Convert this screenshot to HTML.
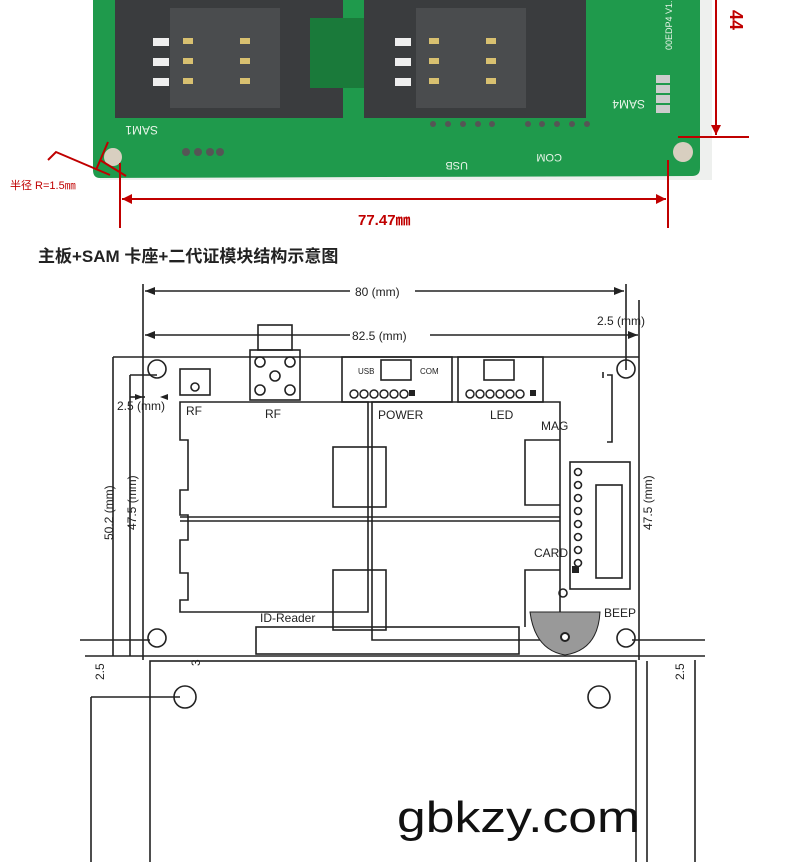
<!DOCTYPE html>
<html><head><meta charset="utf-8"><style>
body{margin:0;background:#fff;width:790px;height:862px;overflow:hidden}
svg{display:block}
text{font-family:"Liberation Sans","Noto Sans CJK SC",sans-serif}
</style></head><body>
<svg width="790" height="862" viewBox="0 0 790 862" xmlns="http://www.w3.org/2000/svg">
<rect x="100" y="0" width="612" height="180" fill="#eef0ee"/>
<path d="M93 0 H700 V168 Q700 176 692 176 L100 178 Q93 178 93 170 Z" fill="#1f9a4c"/>
<rect x="115" y="0" width="228" height="118" fill="#3a3c3e"/>
<rect x="170" y="8" width="110" height="100" fill="#4a4c4e"/>
<rect x="364" y="0" width="222" height="118" fill="#3a3c3e"/>
<rect x="416" y="8" width="110" height="100" fill="#4a4c4e"/>
<g fill="#d8c070"><rect x="183" y="38" width="10" height="6"/><rect x="183" y="58" width="10" height="6"/><rect x="183" y="78" width="10" height="6"/>
<rect x="240" y="38" width="10" height="6"/><rect x="240" y="58" width="10" height="6"/><rect x="240" y="78" width="10" height="6"/>
<rect x="429" y="38" width="10" height="6"/><rect x="429" y="58" width="10" height="6"/><rect x="429" y="78" width="10" height="6"/>
<rect x="486" y="38" width="10" height="6"/><rect x="486" y="58" width="10" height="6"/><rect x="486" y="78" width="10" height="6"/></g>
<g fill="#eee"><rect x="153" y="38" width="16" height="8"/><rect x="153" y="58" width="16" height="8"/><rect x="153" y="78" width="16" height="8"/>
<rect x="395" y="38" width="16" height="8"/><rect x="395" y="58" width="16" height="8"/><rect x="395" y="78" width="16" height="8"/></g>
<rect x="310" y="18" width="54" height="70" fill="#1a7a3a"/>
<text x="128" y="134" font-size="12" fill="#e8f4e8" transform="rotate(180 143 130)">SAM1</text>
<text x="625" y="108" font-size="12" fill="#e8f4e8" transform="rotate(180 635 104)">SAM4</text>
<text x="448" y="170" font-size="11" fill="#e8f4e8" transform="rotate(180 458 166)">USB</text>
<text x="540" y="162" font-size="11" fill="#e8f4e8" transform="rotate(180 551 158)">COM</text>
<g fill="#555"><circle cx="433" cy="124" r="3"/><circle cx="448" cy="124" r="3"/><circle cx="463" cy="124" r="3"/><circle cx="478" cy="124" r="3"/><circle cx="492" cy="124" r="3"/>
<circle cx="528" cy="124" r="3"/><circle cx="542" cy="124" r="3"/><circle cx="557" cy="124" r="3"/><circle cx="572" cy="124" r="3"/><circle cx="587" cy="124" r="3"/>
<circle cx="186" cy="152" r="4"/><circle cx="198" cy="152" r="4"/><circle cx="210" cy="152" r="4"/><circle cx="220" cy="152" r="4"/></g>
<g fill="#ccc"><rect x="656" y="75" width="14" height="8"/><rect x="656" y="85" width="14" height="8"/><rect x="656" y="95" width="14" height="8"/><rect x="656" y="105" width="14" height="8"/></g>
<text x="672" y="50" font-size="9" fill="#e8f4e8" transform="rotate(-90 672 50)">00EDP4 V1.</text>
<circle cx="113" cy="157" r="9" fill="#d8cfc0"/>
<circle cx="683" cy="152" r="10" fill="#d8cfc0"/>
<g stroke="#c00000" stroke-width="2" fill="none">
<line x1="716" y1="0" x2="716" y2="135"/><line x1="678" y1="137" x2="749" y2="137"/>
<line x1="120" y1="163" x2="120" y2="228"/><line x1="668" y1="160" x2="668" y2="228"/>
<line x1="122" y1="199" x2="666" y2="199"/>
<polyline points="48,160 56,152 110,175"/>
<line x1="100" y1="160" x2="126" y2="176"/><line x1="96" y1="170" x2="108" y2="142"/>
</g>
<g fill="#c00000"><polygon points="716,135 711,125 721,125"/><polygon points="122,199 132,194 132,204"/><polygon points="666,199 656,194 656,204"/></g>
<text x="358" y="225" font-size="15" fill="#c00000" font-weight="bold">77.47㎜</text>
<text x="10" y="189" font-size="11" fill="#c00000">半径 R=1.5㎜</text>
<text x="740" y="20" font-size="18" fill="#c00000" font-weight="bold" transform="rotate(90 740 10)">44</text>
<text x="38" y="262" font-size="17" font-weight="bold" fill="#222" font-family="Liberation Serif,Noto Serif CJK SC,serif">主板+SAM 卡座+二代证模块结构示意图</text>
<g stroke="#222" stroke-width="1.6" fill="none">
<line x1="143" y1="284" x2="143" y2="660"/><line x1="626" y1="284" x2="626" y2="370"/>
<line x1="145" y1="291" x2="350" y2="291"/><line x1="415" y1="291" x2="624" y2="291"/>
<line x1="145" y1="335" x2="350" y2="335"/><line x1="430" y1="335" x2="638" y2="335"/>
<line x1="639" y1="300" x2="639" y2="660"/>
<line x1="113" y1="357" x2="639" y2="357"/>
<line x1="113" y1="357" x2="113" y2="656"/><line x1="130" y1="375" x2="130" y2="656"/>
<line x1="130" y1="375" x2="157" y2="375"/>
<circle cx="157" cy="369" r="9"/><circle cx="626" cy="369" r="9"/><circle cx="157" cy="638" r="9"/><circle cx="626" cy="638" r="9"/>
<rect x="180" y="369" width="30" height="26"/><circle cx="195" cy="387" r="4"/>
<rect x="258" y="325" width="34" height="25"/><rect x="250" y="350" width="50" height="50"/>
<circle cx="260" cy="362" r="5"/><circle cx="290" cy="362" r="5"/><circle cx="275" cy="376" r="5"/><circle cx="260" cy="390" r="5"/><circle cx="290" cy="390" r="5"/>
<rect x="342" y="357" width="110" height="45"/><rect x="458" y="357" width="85" height="45"/>
<rect x="381" y="360" width="30" height="20"/><rect x="484" y="360" width="30" height="20"/>
<path d="M180 402 H368 V612 H180 V600 H188 V573 H180 V540 H188 V515 H180 V490 H188 V440 H180 Z"/>
<path d="M372 402 H560 V640 H372 Z"/>
<path d="M180 517 H560"/><path d="M180 521 H560"/>
<rect x="333" y="447" width="53" height="60"/><rect x="333" y="570" width="53" height="60"/>
<path d="M560 440 H525 V505 H560"/><path d="M560 570 H525 V627"/>
<rect x="570" y="462" width="60" height="127"/><rect x="596" y="485" width="26" height="93"/>
<circle cx="578" cy="472" r="3.5"/><circle cx="578" cy="485" r="3.5"/><circle cx="578" cy="498" r="3.5"/><circle cx="578" cy="511" r="3.5"/><circle cx="578" cy="524" r="3.5"/><circle cx="578" cy="537" r="3.5"/><circle cx="578" cy="550" r="3.5"/><circle cx="578" cy="563" r="3.5"/>
<path d="M603 372 V378 M607 375 H612 V442 H607"/>
<circle cx="563" cy="593" r="4"/>
<rect x="256" y="627" width="263" height="27"/>
<line x1="85" y1="656" x2="705" y2="656"/>
<rect x="150" y="661" width="486" height="205"/>
<circle cx="185" cy="697" r="11"/><circle cx="599" cy="697" r="11"/>
<line x1="91" y1="697" x2="180" y2="697"/><line x1="91" y1="697" x2="91" y2="862"/>
<line x1="647" y1="661" x2="647" y2="862"/><line x1="695" y1="660" x2="695" y2="862"/>
<line x1="80" y1="640" x2="150" y2="640"/><line x1="632" y1="640" x2="705" y2="640"/>
<line x1="130" y1="397" x2="145" y2="397"/>
</g>
<g fill="#222">
<polygon points="145,291 155,287 155,295"/><polygon points="624,291 614,287 614,295"/>
<polygon points="145,335 155,331 155,339"/><polygon points="638,335 628,331 628,339"/>
<polygon points="143,397 135,394 135,400"/><polygon points="160,397 168,394 168,400"/>
</g>
<path d="M530 612 H600 Q598 650 565 655 Q535 650 530 612 Z" fill="#999" stroke="#222"/>
<circle cx="565" cy="637" r="4" fill="#fff" stroke="#222" stroke-width="2"/>
<rect x="572" y="566" width="7" height="7" fill="#222"/>
<rect x="409" y="390" width="6" height="6" fill="#222"/><rect x="530" y="390" width="6" height="6" fill="#222"/>
<g fill="none" stroke="#222" stroke-width="1.5">
<circle cx="354" cy="394" r="4"/><circle cx="364" cy="394" r="4"/><circle cx="374" cy="394" r="4"/><circle cx="384" cy="394" r="4"/><circle cx="394" cy="394" r="4"/><circle cx="404" cy="394" r="4"/>
<circle cx="470" cy="394" r="4"/><circle cx="480" cy="394" r="4"/><circle cx="490" cy="394" r="4"/><circle cx="500" cy="394" r="4"/><circle cx="510" cy="394" r="4"/><circle cx="520" cy="394" r="4"/>
</g>
<g font-size="12" fill="#222">
<text x="355" y="296">80 (mm)</text>
<text x="352" y="340">82.5 (mm)</text>
<text x="597" y="325">2.5 (mm)</text>
<text x="117" y="410">2.5 (mm)</text>
<text x="186" y="415">RF</text><text x="265" y="418">RF</text>
<text x="378" y="419">POWER</text><text x="490" y="419">LED</text>
<text x="541" y="430">MAG</text><text x="534" y="557">CARD</text>
<text x="260" y="622">ID-Reader</text><text x="604" y="617">BEEP</text>
<text x="358" y="374" font-size="8">USB</text><text x="420" y="374" font-size="8">COM</text>
<text x="113" y="540" transform="rotate(-90 113 540)">50.2 (mm)</text>
<text x="136" y="530" transform="rotate(-90 136 530)">47.5 (mm)</text>
<text x="652" y="530" transform="rotate(-90 652 530)">47.5 (mm)</text>
<text x="104" y="680" transform="rotate(-90 104 680)">2.5</text>
<text x="684" y="680" transform="rotate(-90 684 680)">2.5</text>
<text x="200" y="666" transform="rotate(-90 200 666)">3</text>
</g>
<text x="397" y="832" font-size="44" fill="#111" textLength="243" lengthAdjust="spacingAndGlyphs">gbkzy.com</text>
</svg>
</body></html>
